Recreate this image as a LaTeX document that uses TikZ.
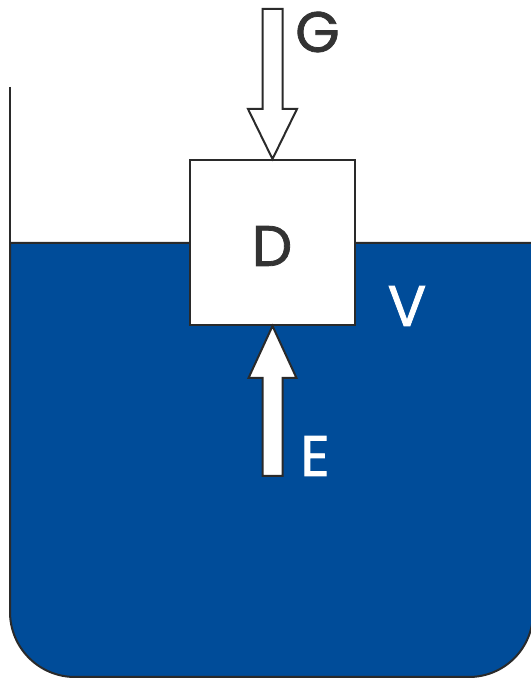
\documentclass[tikz,border=0pt]{standalone}
\usepackage{fontspec}
\setmainfont{Poppins}
\newfontfamily\letterfont{Poppins}[FakeBold=1.4]
\usetikzlibrary{calc}
\definecolor{water}{RGB}{0,76,153}
\definecolor{ink}{RGB}{42,42,42}
\definecolor{lettering}{RGB}{51,51,51}
\tikzset{
  outline/.style={draw=ink, line width=2pt, line join=miter},
  body/.style={outline, fill=white, minimum width=165pt, minimum height=165pt, inner sep=0pt},
  blockarrow/.style={outline, fill=white},
  label/.style={inner sep=0pt, font=\letterfont\fontsize{57}{60}\selectfont}
}
\begin{document}
\begin{tikzpicture}[x=1pt,y=1pt]
  \useasboundingbox (0,0) rectangle (530,679);
  \fill[white] (0,0) rectangle (530,679);
  % container wall above the liquid
  \draw[outline] (10,592) -- (10,436);
  % liquid in the container
  \draw[outline, fill=water] (10,436) -- (10,67) arc(180:270:65) -- (469,2)
        arc(270:360:64) -- (533,436) -- cycle;
  % floating body
  \node[body] (D) at (272.5,436.5) {};
  \node[label, text=lettering] (Dl) at (272,433) {D};
  % weight acting downwards
  \draw[blockarrow] (D.north) -- ($(D.north)+(-24.5,50)$) -- ($(D.north)+(-10,50)$)
        -- ($(D.north)+(-10,150)$) -- ($(D.north)+(10,150)$) -- ($(D.north)+(10,50)$)
        -- ($(D.north)+(24.5,50)$) -- cycle;
  % buoyancy acting upwards
  \draw[blockarrow] (D.south) -- ($(D.south)+(-24,-52)$) -- ($(D.south)+(-10,-52)$)
        -- ($(D.south)+(-10,-150)$) -- ($(D.south)+(10,-150)$) -- ($(D.south)+(10,-52)$)
        -- ($(D.south)+(24,-52)$) -- cycle;
  \node[label, text=lettering] (G) at (317.5,647) {G};
  \node[label, text=white] (E) at (315,223) {E};
  \node[label, text=white] (V) at (407,373) {V};
\end{tikzpicture}
\end{document}
